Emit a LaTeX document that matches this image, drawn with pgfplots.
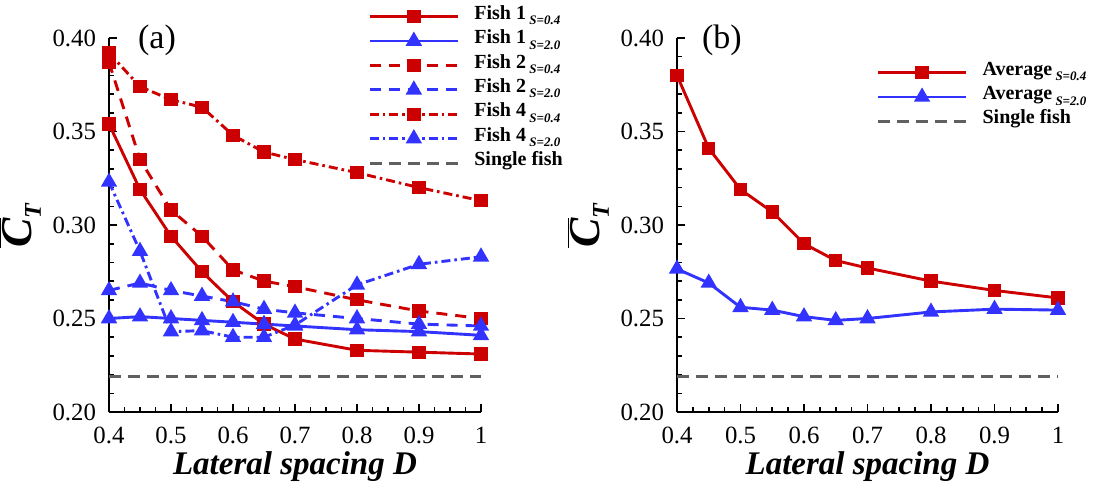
\documentclass[border=0pt]{standalone}
\usepackage{fontspec}
\setmainfont{Liberation Serif}
\usepackage{pgfplots}
\pgfplotsset{compat=1.18}
\definecolor{cred}{RGB}{204,0,0}
\definecolor{cblue}{RGB}{51,51,255}
\definecolor{cgray}{RGB}{96,96,96}

\newcommand{\sub}[1]{\raisebox{-0.6ex}{\fontsize{6.5}{6.5}\selectfont\bfseries\itshape #1}}

\pgfplotsset{
  panel/.style={
    scale only axis, height=187pt,
    axis lines*=left,
    axis line style={line width=1.1pt, black},
    xmin=0.4, xmax=1, ymin=0.2, ymax=0.4,
    xtick={0.4,0.5,0.6,0.7,0.8,0.9,1},
    ytick={0.2,0.25,0.3,0.35,0.4},
    minor x tick num=3, minor y tick num=4,
    tick align=inside,
    major tick length=4pt, minor tick length=2.5pt,
    tick style={line width=0.8pt, black},
    ticklabel style={font=\fontsize{12.4}{14}\selectfont},
    yticklabel style={xshift=-3pt, /pgf/number format/.cd, fixed, fixed zerofill, precision=2, assume math mode=true},
    xticklabel style={yshift=-4pt, /pgf/number format/.cd, fixed, precision=1, assume math mode=true},
    clip=false,
    xlabel={\fontsize{16.5}{18}\selectfont\bfseries\itshape Lateral spacing D},
    xlabel style={yshift=3pt},
    ylabel={$\overline{\mbox{\fontsize{22}{22}\selectfont\bfseries\itshape C}}_{\mbox{\fontsize{12}{12}\selectfont\bfseries\itshape T}}$},
    ylabel style={yshift=-1pt},
    legend style={draw=none, fill=none, font=\fontsize{10}{12}\selectfont\bfseries,
      nodes={inner sep=0pt, text height=7.4pt, text depth=4.8pt},
      /tikz/every odd column/.append style={column sep=7.5pt}},
    legend cell align=left,
    legend image code/.code={\draw[mark repeat=2,mark phase=2] plot coordinates {(0pt,0pt) (22pt,0pt) (44pt,0pt)};},
  },
  rsq/.style={color=cred, line width=1.45pt, mark=square*, mark size=2.6pt, mark options={solid, fill=cred}},
  btr/.style={color=cblue, line width=1.45pt, mark=triangle*, mark size=3.3pt, mark options={solid, fill=cblue}},
  dsh/.style={dash pattern=on 5.5pt off 4pt},
  dsd/.style={dash pattern=on 4.5pt off 2pt on 1.3pt off 2pt},
  single/.style={color=cgray, line width=1.5pt, dash pattern=on 6pt off 3.5pt},
}

\begin{document}
\begin{tikzpicture}
\useasboundingbox (0,0) rectangle (558.5pt,241.5pt);

% (a) individual fish
\begin{axis}[panel, width=186pt, at={(54.5pt,35.5pt)}, anchor=south west,
  legend style={at={(0.680,1.1016)}, anchor=north west}]
\addplot[rsq] coordinates {
  (0.4,0.354) (0.45,0.319) (0.5,0.294) (0.55,0.275) (0.6,0.259)
  (0.65,0.247) (0.7,0.239) (0.8,0.233) (0.9,0.232) (1,0.231)};
\addplot[btr] coordinates {
  (0.4,0.250) (0.45,0.251) (0.5,0.250) (0.55,0.249) (0.6,0.248)
  (0.65,0.247) (0.7,0.246) (0.8,0.244) (0.9,0.243) (1,0.241)};
\addplot[rsq, dsh] coordinates {
  (0.4,0.387) (0.45,0.335) (0.5,0.308) (0.55,0.294) (0.6,0.276)
  (0.65,0.270) (0.7,0.267) (0.8,0.260) (0.9,0.254) (1,0.250)};
\addplot[btr, dsh] coordinates {
  (0.4,0.265) (0.45,0.269) (0.5,0.265) (0.55,0.262) (0.6,0.259)
  (0.65,0.255) (0.7,0.253) (0.8,0.250) (0.9,0.247) (1,0.246)};
\addplot[rsq, dsd] coordinates {
  (0.4,0.392) (0.45,0.374) (0.5,0.367) (0.55,0.363) (0.6,0.348)
  (0.65,0.339) (0.7,0.335) (0.8,0.328) (0.9,0.320) (1,0.313)};
\addplot[btr, dsd] coordinates {
  (0.4,0.323) (0.45,0.286) (0.5,0.243) (0.55,0.2435) (0.6,0.240)
  (0.65,0.240) (0.7,0.2465) (0.8,0.268) (0.9,0.279) (1,0.283)};
\addplot[single] coordinates {(0.4,0.219) (1,0.219)};
\legend{Fish 1\,\sub{S=0.4}, Fish 1\,\sub{S=2.0}, Fish 2\,\sub{S=0.4},
  Fish 2\,\sub{S=2.0}, Fish 4\,\sub{S=0.4}, Fish 4\,\sub{S=2.0}, Single fish}
\node at (rel axis cs:0.129,0.995) {\fontsize{17}{17}\selectfont (a)};
\end{axis}

% (b) average
\begin{axis}[panel, width=190.5pt, at={(338.5pt,35.5pt)}, anchor=south west,
  legend style={at={(0.507,0.952)}, anchor=north west}]
\addplot[rsq] coordinates {
  (0.4,0.380) (0.45,0.341) (0.5,0.319) (0.55,0.307) (0.6,0.290)
  (0.65,0.281) (0.7,0.277) (0.8,0.270) (0.9,0.265) (1,0.261)};
\addplot[btr] coordinates {
  (0.4,0.2765) (0.45,0.269) (0.5,0.256) (0.55,0.2545) (0.6,0.251)
  (0.65,0.249) (0.7,0.250) (0.8,0.2535) (0.9,0.255) (1,0.2545)};
\addplot[single] coordinates {(0.4,0.219) (1,0.219)};
\legend{Average\,\sub{S=0.4}, Average\,\sub{S=2.0}, Single fish}
\node at (rel axis cs:0.118,0.995) {\fontsize{17}{17}\selectfont (b)};
\end{axis}
\end{tikzpicture}
\end{document}
